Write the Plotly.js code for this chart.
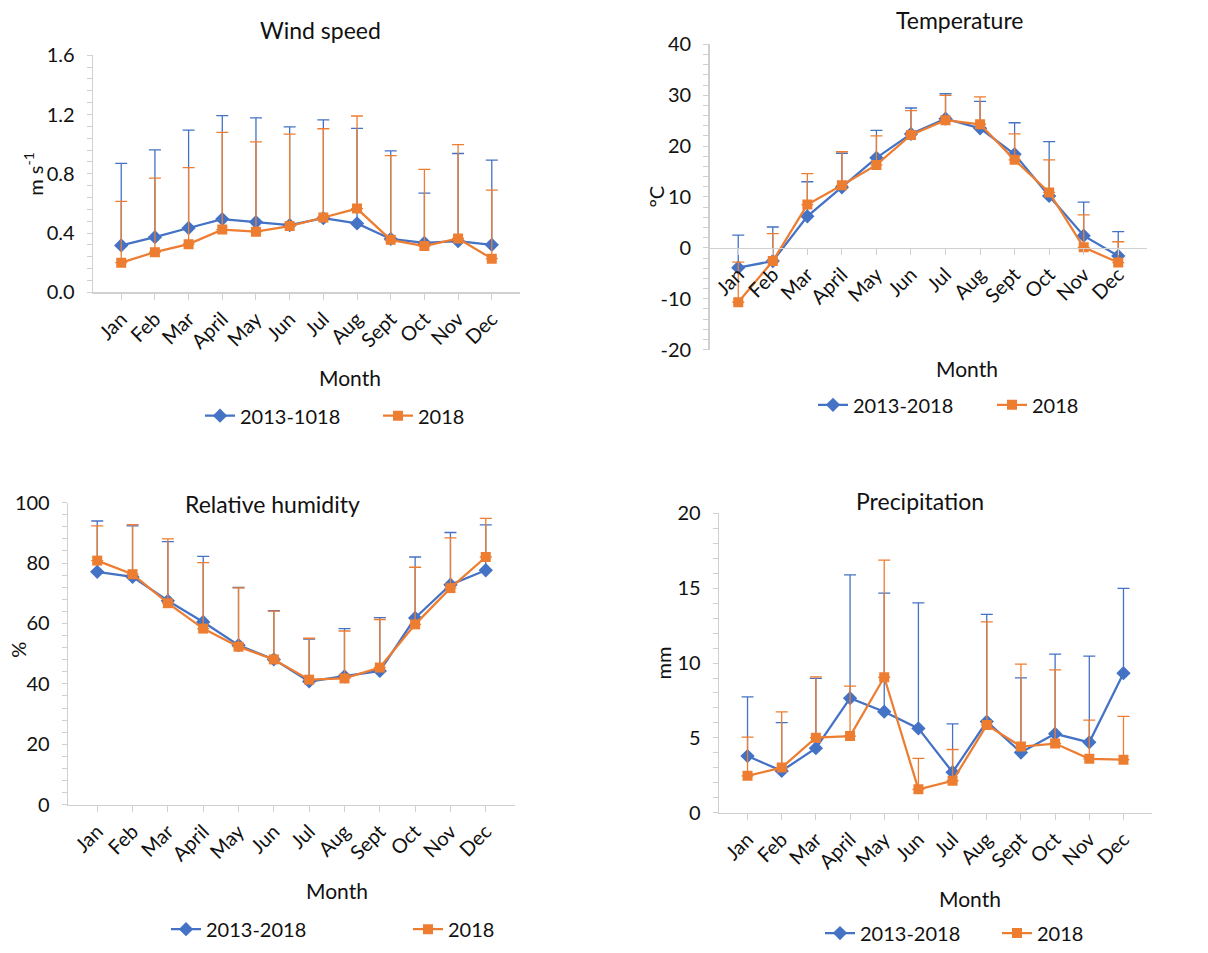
<!DOCTYPE html>
<html><head><meta charset="utf-8">
<script src="https://cdn.plot.ly/plotly-3.0.1.min.js"></script>
<style>html,body{margin:0;padding:0;background:#fff}#c{width:1208px;height:953px}</style>
</head><body><div id="c"></div>
<script>
const months = ['Jan','Feb','Mar','April','May','Jun','Jul','Aug','Sept','Oct','Nov','Dec'];

// Wind speed (m s-1)
const windAvg     = [0.316,0.372,0.434,0.494,0.474,0.454,0.500,0.465,0.360,0.334,0.345,0.320];
const windAvgTop  = [0.870,0.961,1.095,1.193,1.177,1.117,1.164,1.106,0.955,0.670,0.937,0.892];
const wind2018    = [0.200,0.271,0.325,0.423,0.409,0.447,0.505,0.565,0.354,0.312,0.363,0.227];
const wind2018Top = [0.614,0.770,0.841,1.079,1.015,1.068,1.104,1.190,0.923,0.830,0.997,0.690];

// Temperature (°C)
const tempAvg     = [-3.9,-2.6,6.2,11.9,17.7,22.4,25.4,23.5,18.4,10.2,2.4,-1.6];
const tempAvgTop  = [2.5,4.1,13.0,18.6,23.1,27.5,30.3,28.8,24.6,20.9,9.0,3.2];
const temp2018    = [-10.7,-2.6,8.5,12.3,16.3,22.2,25.1,24.3,17.3,10.9,0.1,-2.9];
const temp2018Top = [-2.8,2.8,14.6,18.9,22.0,27.0,30.0,29.7,22.4,17.3,6.5,1.2];
const tempTickVals = [-20,-10,0,10,20,30,40];
const tempTickText = ['-20','-10','0','10','20','30','40'];

// Relative humidity (%)
const rhAvg     = [77.1,75.4,67.5,60.5,52.8,48.1,40.8,42.5,44.3,61.8,72.8,77.6];
const rhAvgTop  = [93.9,92.3,87.1,82.2,71.9,64.2,54.8,58.3,61.9,82.0,90.1,92.6];
const rh2018    = [80.8,76.3,66.7,58.3,52.3,48.1,41.4,41.8,45.4,59.7,71.7,82.0];
const rh2018Top = [92.3,92.7,88.0,80.1,71.8,64.1,55.1,57.5,61.3,78.6,88.3,94.8];

// Precipitation (mm)
const prAvg     = [3.78,2.79,4.31,7.65,6.75,5.63,2.70,6.09,4.02,5.27,4.70,9.32];
const prAvgTop  = [7.74,6.02,8.97,15.90,14.68,14.02,5.93,13.25,9.01,10.59,10.46,14.99];
const pr2018    = [2.46,3.01,5.01,5.12,9.05,1.56,2.13,5.85,4.42,4.62,3.60,3.54];
const pr2018Top = [5.05,6.73,9.08,8.46,16.88,3.63,4.22,12.75,9.93,9.54,6.18,6.44];

const W = 1208, H = 953;
const BLUE = '#4472C4', ORANGE = '#ED7D31';
const FONT = 'Lato, "Open Sans", sans-serif';
const px = v => v / W;
const py = v => 1 - v / H;

function plus(top, val){ return top.map((t,i) => t - val[i]); }
function zeros(a){ return a.map(() => 0); }

function pair(avg, avgTop, y18, y18Top, name1, xa, ya, leg){
  return [
    {x: months, y: avg, name: name1, type:'scatter', mode:'lines+markers', xaxis: xa, yaxis: ya, legend: leg,
     line:{color:BLUE, width:2.25}, marker:{symbol:'diamond', size:11, color:BLUE},
     error_y:{type:'data', symmetric:false, array: plus(avgTop, avg), arrayminus: zeros(avg), color:BLUE, thickness:1.3, width:6}},
    {x: months, y: y18, name: '2018', type:'scatter', mode:'lines+markers', xaxis: xa, yaxis: ya, legend: leg,
     line:{color:ORANGE, width:2.25}, marker:{symbol:'square', size:10, color:ORANGE},
     error_y:{type:'data', symmetric:false, array: plus(y18Top, y18), arrayminus: zeros(y18), color:ORANGE, thickness:1.3, width:6}}
  ];
}

const data = [
  ...pair(windAvg, windAvgTop, wind2018, wind2018Top, '2013-1018', 'x', 'y', 'legend'),
  ...pair(tempAvg, tempAvgTop, temp2018, temp2018Top, '2013-2018', 'x2', 'y2', 'legend2'),
  ...pair(rhAvg, rhAvgTop, rh2018, rh2018Top, '2013-2018', 'x3', 'y3', 'legend3'),
  ...pair(prAvg, prAvgTop, pr2018, pr2018Top, '2013-2018', 'x4', 'y4', 'legend4')
];

const AX = '#d0d0d0';
function xax(x0, x1, extra){
  return Object.assign({domain:[px(x0), px(x1)], type:'category', showline:true, linecolor:AX, linewidth:1.3,
    ticks:'outside', ticklen:6, tickcolor:AX, tickangle:-45, showgrid:false, zeroline:false,
    tickfont:{size:20, color:'#111', family:FONT}, fixedrange:true}, extra||{});
}
function yax(y0, y1, range, dtick, minor, extra){
  return Object.assign({domain:[py(y1), py(y0)], range: range, dtick: dtick, tick0: range[0], showline:true, linecolor:AX, linewidth:1.3,
    ticks:'outside', ticklen:5, tickcolor:AX, showgrid:false, zeroline:false, ticklabelstandoff:8,
    minor:{dtick: minor, tick0: range[0], ticks:'outside', ticklen:5, tickcolor:AX, showgrid:false},
    tickfont:{size:20, color:'#111', family:FONT}, fixedrange:true}, extra||{});
}

const ann = [];
function txt(x, y, t, size, angle){
  ann.push({xref:'paper', yref:'paper', x:px(x), y:py(y), text:t, showarrow:false, xanchor:'center', yanchor:'middle',
    textangle: angle||0, font:{size:size, color:'#111', family:FONT}});
}
txt(320, 30, 'Wind speed', 23);
txt(960, 20, 'Temperature', 23);
txt(272, 510, 'Relative humidity', 23);
txt(920, 507, 'Precipitation', 23);
txt(350, 382, 'Month', 21);
txt(967, 373, 'Month', 21);
txt(337, 902, 'Month', 21);
txt(970, 910, 'Month', 21);
txt(33, 176, 'm s<sup>-1</sup>', 20, -90);
txt(656, 199, '°C', 20, -90);
txt(18, 658, '%', 20, -90);
txt(663, 672, 'mm', 20, -90);

function leg(x, y, w){
  return {orientation:'h', x:px(x), y:py(y), xanchor:'left', yanchor:'middle', bgcolor:'rgba(0,0,0,0)',
    font:{size:20, color:'#111', family:FONT}, entrywidth:w, entrywidthmode:'pixels', itemclick:false, itemdoubleclick:false};
}

const zeroPos = py(45 + (40/60)*(354-45));

const layout = {
  width: W, height: H, margin:{l:0, r:0, t:0, b:0}, paper_bgcolor:'#fff', plot_bgcolor:'#fff',
  font:{family:FONT, color:'#111'}, showlegend:true,
  xaxis: xax(93, 520, {anchor:'y'}),
  yaxis: yax(56, 296, [0, 1.6], 0.4, 0.08, {anchor:'x', tickformat:'.1f'}),
  xaxis2: xax(709.5, 1147, {anchor:'free', position: zeroPos}),
  yaxis2: yax(45, 354, [-20, 40], 10, 2, {anchor:'x2', tickmode:'array', tickvals: tempTickVals, ticktext: tempTickText,
          minor:{tickmode:'linear', dtick:2, tick0:-20, ticks:'outside', ticklen:5, tickcolor:AX, showgrid:false}}),
  xaxis3: xax(68, 515, {anchor:'y3'}),
  yaxis3: yax(509, 815, [0, 100], 20, 4, {anchor:'x3'}),
  xaxis4: xax(719, 1152, {anchor:'y4'}),
  yaxis4: yax(520, 823, [0, 20], 5, 1, {anchor:'x4'}),
  legend: leg(200, 421, 133),
  legend2: leg(813, 410, 134),
  legend3: leg(166, 941, 197),
  legend4: leg(820, 945, 132),
  annotations: ann
};

Plotly.newPlot('c', data, layout, {displayModeBar:false, staticPlot:true});
</script></body></html>
